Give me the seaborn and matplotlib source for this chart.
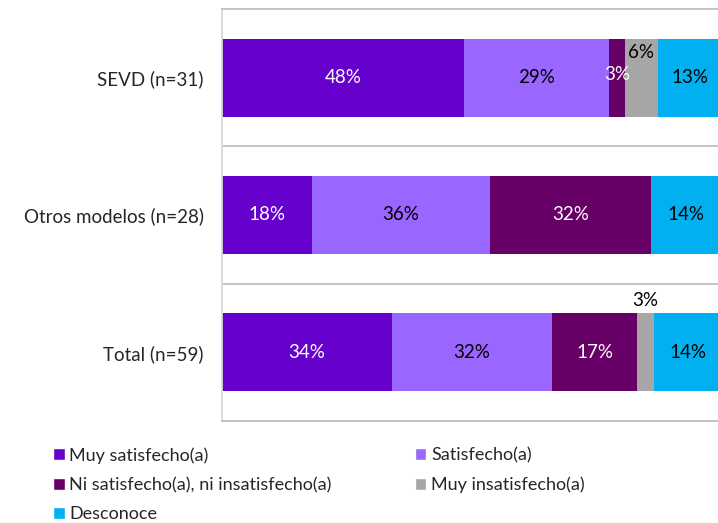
import pandas as pd
import seaborn as sns
from matplotlib import pyplot as plt
from matplotlib.patches import Patch

groups = ["SEVD (n=31)", "Otros modelos (n=28)", "Total (n=59)"]
levels = ["Muy satisfecho(a)", "Satisfecho(a)", "Ni satisfecho(a), ni insatisfecho(a)",
          "Muy insatisfecho(a)", "Desconoce"]
muy_satisfecho = [48.4, 17.9, 33.9]
satisfecho = [29.0, 35.7, 32.2]
ni_ni = [3.2, 32.1, 16.9]
muy_insatisfecho = [6.5, 0.0, 3.4]
desconoce = [12.9, 14.3, 13.6]

colors = ["#6600cc", "#9966ff", "#660066", "#a6a6a6", "#00b0f0"]
text_colors = ["white", "black", "white", "black", "black"]

sns.set_style("white")
plt.rcParams['font.family'] = ['Lato', 'DejaVu Sans']

df = pd.DataFrame({"grupo": groups, levels[0]: muy_satisfecho, levels[1]: satisfecho,
                   levels[2]: ni_ni, levels[3]: muy_insatisfecho, levels[4]: desconoce})
cum = df[levels].cumsum(axis=1)

fig = plt.figure(figsize=(7.18, 5.23), dpi=100)
ax = fig.add_axes([222 / 718, 102 / 523, 500 / 718, 412 / 523])

# stacked bars: draw cumulative totals from the longest down
for lvl, col in reversed(list(zip(levels, colors))):
    sns.barplot(x=cum[lvl], y=df["grupo"], color=col, width=0.57, orient="h",
                saturation=1, ax=ax, linewidth=0)

# labels
for i, g in enumerate(groups):
    left = 0
    for j, lvl in enumerate(levels):
        v = df.loc[i, lvl]
        if v > 0:
            x = left + v / 2
            y = i
            if lvl == "Muy insatisfecho(a)":
                y = i - 0.38 if v < 5 else i - 0.18
            elif lvl == "Ni satisfecho(a), ni insatisfecho(a)" and v < 5:
                y = i - 0.02
            ax.text(x, y, f"{v:.0f}%", ha="center", va="center", fontsize=13.5,
                    color=text_colors[j])
        left += v

ax.set_xlim(0, 100)
ax.set_ylim(2.5, -0.5)
ax.set_xlabel("")
ax.set_ylabel("")
ax.set_xticks([])
ax.set_yticks([0.5, 1.5], minor=True)
ax.grid(True, which="minor", axis="y", color="#bfbfbf", linewidth=1.3)
ax.tick_params(axis="y", which="both", length=0, pad=13, labelsize=13.5, labelcolor="#262626")
ax.set_axisbelow(True)
for s in ["top", "bottom"]:
    ax.spines[s].set_color("#bfbfbf")
    ax.spines[s].set_linewidth(1.3)
ax.spines["left"].set_color("#d9d9d9")
ax.spines["left"].set_linewidth(1.3)
ax.spines["right"].set_visible(False)

order = [0, 2, 4, 1, 3]
handles = [Patch(facecolor=colors[k], label=levels[k]) for k in order]
fig.legend(handles=handles, ncol=2, loc="upper left", bbox_to_anchor=(53 / 718, 1 - 447 / 523),
           frameon=False, fontsize=13, handlelength=0.65, handleheight=0.65,
           handletextpad=0.25, labelspacing=0.74, columnspacing=4.6, borderaxespad=0,
           borderpad=0, labelcolor="#262626")

plt.savefig("out.png", dpi=100)
